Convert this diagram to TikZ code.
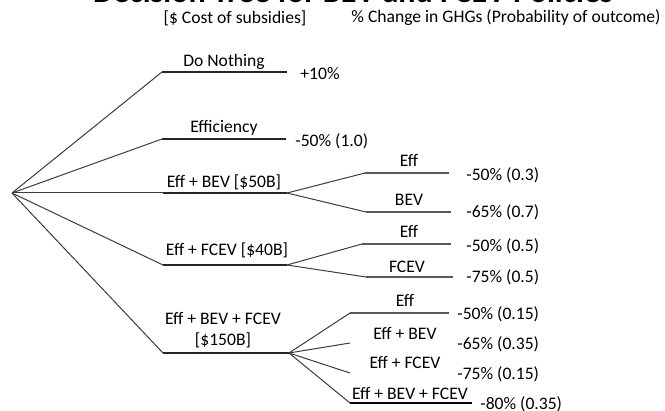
\documentclass[tikz,border=0pt]{standalone}
\usepackage{fontspec}
\setmainfont{Carlito}
\usepackage{tikz}
\usetikzlibrary{positioning}
\definecolor{twiggray}{HTML}{3C3C3C}

\begin{document}
\begin{tikzpicture}[x=0.5pt, y=-0.5pt, every node/.style={font=\fontsize{8.8}{10.5}\selectfont, inner sep=0pt},
  twig/.style={draw=twiggray, line width=0.5pt},
  bar/.style={draw=black!85, line width=1pt},
  subbar/.style={draw=black!65, line width=0.75pt},
  res/.style={anchor=west}]
  \useasboundingbox (0,0) rectangle (665,411);

  % title and column headers
  \node[font=\fontsize{16}{18}\selectfont\bfseries, anchor=base] (title) at (353,3) {Decision Tree for BEV and FCEV Policies};
  \node (costhead) at (235,18) {[\$ Cost of subsidies]};
  \node (ghghead) at (506,18) {\% Change in GHGs (Probability of outcome)};

  \coordinate (root) at (12,193);

  % do nothing
  \coordinate (dnA) at (162,72);
  \coordinate (dnB) at (287,72);
  \draw[twig] (root) -- (dnA);
  \draw[bar] (dnA) -- (dnB);
  \node (dnlbl) at (224,62) {Do Nothing};
  \node[res] (dnres) at (300,74) {+10\%};

  % efficiency
  \coordinate (efA) at (162,139);
  \coordinate (efB) at (286,139);
  \draw[twig] (root) -- (efA);
  \draw[bar] (efA) -- (efB);
  \node (eflbl) at (224,128) {Efficiency};
  \node[res] (efres) at (295,141) {-50\% (1.0)};

  % eff + bev
  \coordinate (bvA) at (163,193);
  \coordinate (bvB) at (287,193);
  \draw[twig] (root) -- (bvA);
  \draw[bar] (bvA) -- (bvB);
  \node (bvlbl) at (224,182) {Eff + BEV [\$50B]};

  \coordinate (bvEffC) at (365,173);
  \coordinate (bvEffD) at (449,173);
  \draw[twig] (bvB) -- (bvEffC);
  \draw[subbar] (bvEffC) -- (bvEffD);
  \node (bvEfflbl) at (409,160) {Eff};
  \node[res] (bvEffres) at (466,175) {-50\% (0.3)};

  \coordinate (bvBevC) at (366,212);
  \coordinate (bvBevD) at (451,212);
  \draw[twig] (bvB) -- (bvBevC);
  \draw[subbar] (bvBevC) -- (bvBevD);
  \node (bvBevlbl) at (409,200) {BEV};
  \node[res] (bvBevres) at (466,212) {-65\% (0.7)};

  % eff + fcev
  \coordinate (fcA) at (163,265);
  \coordinate (fcB) at (287,265);
  \draw[twig] (root) -- (fcA);
  \draw[bar] (fcA) -- (fcB);
  \node (fclbl) at (227,250) {Eff + FCEV [\$40B]};

  \coordinate (fcEffC) at (362,244);
  \coordinate (fcEffD) at (451,244);
  \draw[twig] (fcB) -- (fcEffC);
  \draw[subbar] (fcEffC) -- (fcEffD);
  \node (fcEfflbl) at (409,231) {Eff};
  \node[res] (fcEffres) at (466,246) {-50\% (0.5)};

  \coordinate (fcFcC) at (366,277);
  \coordinate (fcFcD) at (453,277);
  \draw[twig] (fcB) -- (fcFcC);
  \draw[subbar] (fcFcC) -- (fcFcD);
  \node (fcFclbl) at (407,267) {FCEV};
  \node[res] (fcFcres) at (466,277) {-75\% (0.5)};

  % eff + bev + fcev
  \coordinate (abA) at (163,353);
  \coordinate (abB) at (289,353);
  \draw[twig] (root) -- (abA);
  \draw[bar] (abA) -- (abB);
  \node[align=center] (ablbl) at (223,330) {Eff + BEV + FCEV\\{[\$150B]}};

  \coordinate (abEffC) at (350,313);
  \coordinate (abEffD) at (449,313);
  \draw[twig] (abB) -- (abEffC);
  \draw[subbar] (abEffC) -- (abEffD);
  \node (abEfflbl) at (405,300) {Eff};
  \node[res] (abEffres) at (457,314) {-50\% (0.15)};

  \coordinate (abBevC) at (350,343);
  \draw[twig] (abB) -- (abBevC);
  \node (abBevlbl) at (405,333) {Eff + BEV};
  \node[res] (abBevres) at (457,344) {-65\% (0.35)};

  \coordinate (abFcC) at (350,373);
  \draw[twig] (abB) -- (abFcC);
  \node (abFclbl) at (405,362) {Eff + FCEV};
  \node[res] (abFcres) at (457,374) {-75\% (0.15)};

  \coordinate (abAllC) at (350,403);
  \coordinate (abAllD) at (472,403);
  \draw[twig] (abB) -- (abAllC);
  \draw[bar, draw=black, line width=1.4pt] (abAllC) -- (abAllD);
  \node (abAlllbl) at (410,393) {Eff + BEV + FCEV};
  \node[res] (abAllres) at (480,404) {-80\% (0.35)};
\end{tikzpicture}
\end{document}
